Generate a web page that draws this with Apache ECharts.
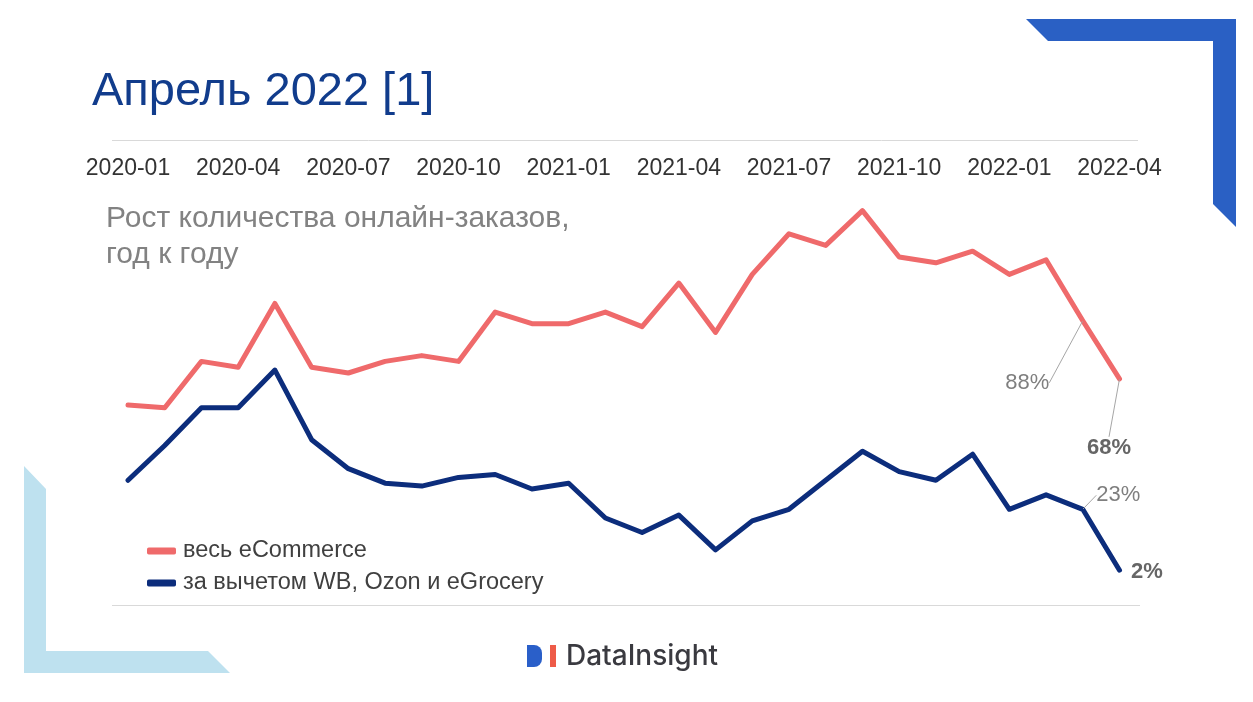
<!DOCTYPE html>
<html>
<head>
<meta charset="utf-8">
<script src="https://cdn.jsdelivr.net/npm/echarts@6/dist/echarts.min.js"></script>
<style>
html,body{margin:0;padding:0;background:#fff;}
#chart{width:1253px;height:702px;}
</style>
</head>
<body>
<div id="chart"></div>
<script>
// ---- data ----
var months = ['2020-01','2020-02','2020-03','2020-04','2020-05','2020-06','2020-07','2020-08','2020-09','2020-10','2020-11','2020-12',
              '2021-01','2021-02','2021-03','2021-04','2021-05','2021-06','2021-07','2021-08','2021-09','2021-10','2021-11','2021-12',
              '2022-01','2022-02','2022-03','2022-04'];
var allEcom = [59, 58, 74, 72, 94, 72, 70, 74, 76, 74, 91, 87, 87, 91, 86, 101, 84, 104, 118, 114, 126, 110, 108, 112, 104, 109, 88, 68];
var exclWbOzon = [33, 45, 58, 58, 71, 47, 37, 32, 31, 34, 35, 30, 32, 20, 15, 21, 9, 19, 23, 33, 43, 36, 33, 42, 23, 28, 23, 2];
var seriesNames = ['весь eCommerce', 'за вычетом WB, Ozon и eGrocery'];
var titleText = 'Апрель 2022 [1]';
var subtitleText = 'Рост количества онлайн-заказов,\nгод к году';

var RED = '#EF6A6B', BLUE = '#0C2D7C';
var FONT = '"Liberation Sans", Arial, sans-serif';

function labelled(arr, styles) {
  return arr.map(function (v, i) {
    if (styles[i]) {
      return {value: v, label: Object.assign({show: true, position: 'right', distance: 5,
        formatter: '{c}%', fontFamily: FONT, fontSize: 22}, styles[i].label),
        labelLine: {show: styles[i].line, lineStyle: {color: '#A6A6A6', width: 1}}};
    }
    return v;
  });
}
var n = allEcom.length;
var redStyles = {}; redStyles[n - 2] = {label: {color: '#7F7F7F'}, line: true};
redStyles[n - 1] = {label: {color: '#666666', fontWeight: 'bold'}, line: true};
var blueStyles = {}; blueStyles[n - 2] = {label: {color: '#7F7F7F'}, line: true};
blueStyles[n - 1] = {label: {color: '#666666', fontWeight: 'bold'}, line: false};

// label offsets (dx, dy) keyed by series/data index
var labelMoves = {};
labelMoves['0_' + (n - 2)] = [-83, 62];
labelMoves['0_' + (n - 1)] = [-38, 69];
labelMoves['1_' + (n - 2)] = [8, -14];
labelMoves['1_' + (n - 1)] = [6, 2];

var chart = echarts.init(document.getElementById('chart'), null, {renderer: 'canvas'});
chart.setOption({
  animation: false,
  backgroundColor: '#ffffff',
  title: [
    {text: titleText, left: 87, top: 64, textStyle: {fontFamily: FONT, fontSize: 47, fontWeight: 'normal', color: '#113C8C'}},
    {text: subtitleText, left: 101, top: 196, textStyle: {fontFamily: FONT, fontSize: 30, fontWeight: 'normal', color: '#828282', lineHeight: 36}}
  ],
  legend: {
    orient: 'vertical', left: 142, top: 533, itemWidth: 29, itemHeight: 7, itemGap: 6,
    icon: 'roundRect',
    textStyle: {fontFamily: FONT, fontSize: 23.5, color: '#404040', lineHeight: 26, padding: [0, 0, 0, 2]},
    data: seriesNames
  },
  grid: {left: 128, right: 133.5, top: 199, bottom: 126, containLabel: false},
  xAxis: {
    type: 'category', position: 'top', data: months, boundaryGap: false,
    axisLine: {show: false}, axisTick: {show: false},
    axisLabel: {interval: 2, margin: 19, fontFamily: FONT, fontSize: 23, color: '#333333'}
  },
  yAxis: {type: 'value', min: 0, max: 130, show: false, splitLine: {show: false}},
  series: [
    {name: seriesNames[0], type: 'line', data: labelled(allEcom, redStyles), color: RED,
     symbol: 'circle', symbolSize: 1, showSymbol: true,
     lineStyle: {width: 5, color: RED, join: 'round', cap: 'round'}, itemStyle: {color: RED},
     emphasis: {disabled: true}, silent: true,
     labelLayout: function (p) { var m = labelMoves['0_' + p.dataIndex]; return m ? {dx: m[0], dy: m[1]} : {}; }},
    {name: seriesNames[1], type: 'line', data: labelled(exclWbOzon, blueStyles), color: BLUE,
     symbol: 'circle', symbolSize: 1, showSymbol: true,
     lineStyle: {width: 5, color: BLUE, join: 'round', cap: 'round'}, itemStyle: {color: BLUE},
     emphasis: {disabled: true}, silent: true,
     labelLayout: function (p) { var m = labelMoves['1_' + p.dataIndex]; return m ? {dx: m[0], dy: m[1]} : {}; }}
  ],
  graphic: [
    {type: 'polygon', shape: {points: [[1026, 19], [1236, 19], [1236, 227], [1213, 204], [1213, 41], [1048, 41]]}, style: {fill: '#2A60C4'}, silent: true},
    {type: 'polygon', shape: {points: [[24, 466], [46, 489], [46, 651], [208, 651], [230, 673], [24, 673]]}, style: {fill: '#BEE1EF'}, silent: true},
    {type: 'line', shape: {x1: 112, y1: 140.5, x2: 1138, y2: 140.5}, style: {stroke: '#D9D9D9', lineWidth: 1}, silent: true},
    {type: 'line', shape: {x1: 112, y1: 605.5, x2: 1140, y2: 605.5}, style: {stroke: '#D9D9D9', lineWidth: 1}, silent: true},
    {type: 'rect', shape: {x: 527, y: 645, width: 15, height: 22, r: [0, 8, 8, 0]}, style: {fill: '#2A5FC9'}, silent: true},
    {type: 'rect', shape: {x: 550, y: 645, width: 6, height: 22}, style: {fill: '#EE5B48'}, silent: true},
    {type: 'text', x: 566, y: 657, style: {text: 'DataInsight', font: '500 28px Inter, "Open Sans", sans-serif', fill: '#3A3A40', verticalAlign: 'middle', align: 'left'}, silent: true}
  ]
});
</script>
</body>
</html>
